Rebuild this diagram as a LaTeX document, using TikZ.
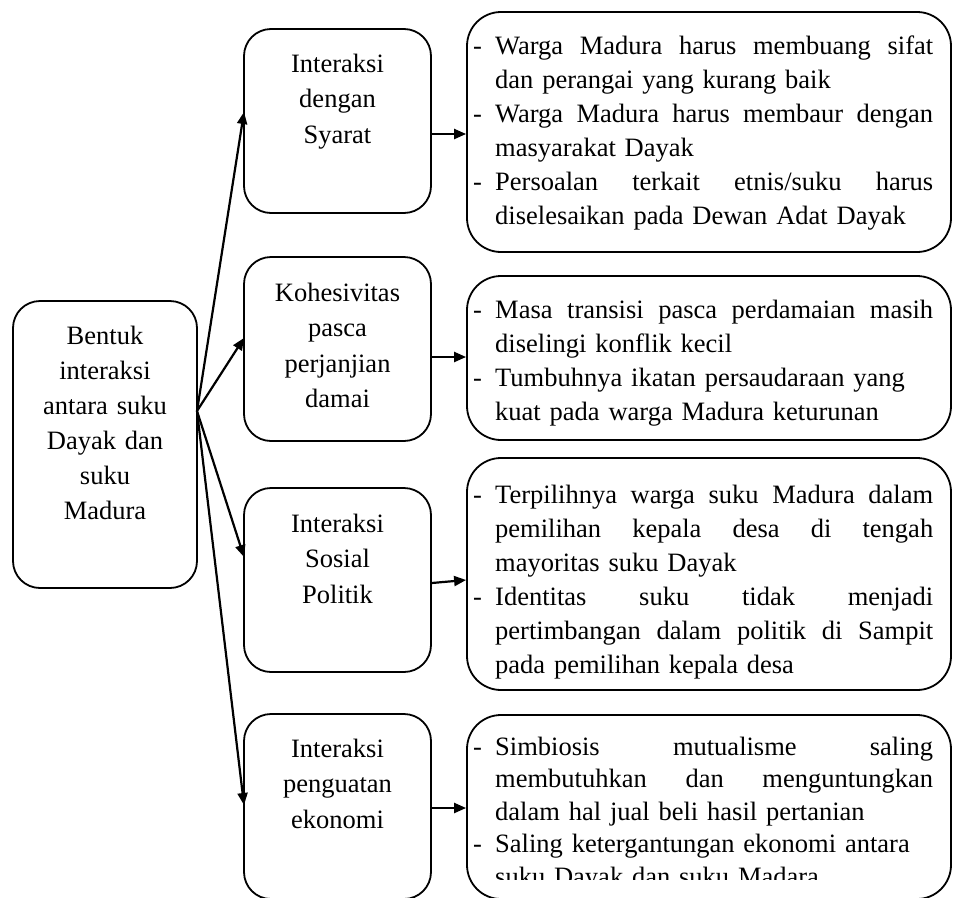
\documentclass[tikz,border=0pt]{standalone}
\usepackage{fontspec}
\setmainfont{Liberation Serif}
\usetikzlibrary{arrows.meta}
% bullet dash with hanging indent, and full-width justified lines
\newcommand\itemdash{\makebox[22pt][l]{-}}
\newcommand\contline{\hspace*{22pt}}
\newcommand\justline[1]{\hbox to 438pt{\spaceskip=0.25em plus 1fil\relax #1}}
\begin{document}
\begin{tikzpicture}[x=1pt,y=-1pt,
  box/.style={draw, line width=1.8pt, rounded corners=27pt, inner sep=0pt},
  rbox/.style={draw, line width=1.8pt, rounded corners=34pt, inner sep=0pt,
               minimum width=484pt},
  mbox/.style={box, minimum width=187pt, minimum height=184pt},
  mtext/.style={text width=187pt, align=center, anchor=base, inner sep=0pt,
                font=\fontsize{26.5}{35.5}\selectfont},
  rtext/.style={text width=470pt, align=left, anchor=base west, inner sep=0pt,
                font=\fontsize{26.5}{34}\selectfont},
  arr/.style={line width=2.2pt, -{Triangle[length=12pt,width=10pt]}}]
\useasboundingbox (0,0) rectangle (953,897);

% source box
\node[box, minimum width=184pt, minimum height=287pt] (src) at (105,444.5) {};
\node[text width=184pt, align=center, anchor=base, inner sep=0pt,
      font=\fontsize{26.5}{35}\selectfont] (srctext) at (105,344)
  {Bentuk\\interaksi\\antara suku\\Dayak dan\\suku\\Madura};

% middle column
\node[mbox] (m1) at (337.5,121) {};
\node[mbox] (m2) at (337.5,349) {};
\node[mbox] (m3) at (337.5,580) {};
\node[mbox, minimum height=185pt] (m4) at (337.5,806.5) {};
\node[mtext] (m1text) at (337.5,72) {Interaksi\\dengan\\Syarat};
\node[mtext] (m2text) at (337.5,301) {Kohesivitas\\pasca\\perjanjian\\damai};
\node[mtext] (m3text) at (337.5,532) {Interaksi\\Sosial\\Politik};
\node[mtext] (m4text) at (337.5,757) {Interaksi\\penguatan\\ekonomi};

% right column
\node[rbox, minimum height=240pt] (r1) at (709,132) {};
\node[rbox, minimum height=164pt] (r2) at (709,358) {};
\node[rbox, minimum height=232pt] (r3) at (709,574) {};
\node[rbox, minimum height=184pt] (r4) at (709,807) {};

\node[rtext] (r1text) at (473,54.5) {%
  \itemdash\justline{Warga Madura harus membuang sifat}\\
  \contline dan perangai yang kurang baik\\
  \itemdash\justline{Warga Madura harus membaur dengan}\\
  \contline masyarakat Dayak\\
  \itemdash\justline{Persoalan terkait etnis/suku harus}\\
  \contline diselesaikan pada Dewan Adat Dayak};

\node[rtext] (r2text) at (473,318) {%
  \itemdash\justline{Masa transisi pasca perdamaian masih}\\
  \contline diselingi konflik kecil\\
  \itemdash Tumbuhnya ikatan persaudaraan yang\\
  \contline kuat pada warga Madura keturunan};

\node[rtext] (r3text) at (473,503) {%
  \itemdash\justline{Terpilihnya warga suku Madura dalam}\\
  \contline\justline{pemilihan kepala desa di tengah}\\
  \contline mayoritas suku Dayak\\
  \itemdash\justline{Identitas suku tidak menjadi}\\
  \contline\justline{pertimbangan dalam politik di Sampit}\\
  \contline pada pemilihan kepala desa};

% the last line of this text box is cut off by its frame
\begin{scope}
  \clip (460,700) rectangle (953,879.5);
  \node[rtext, font=\fontsize{26.5}{32.5}\selectfont] (r4text) at (473,755) {%
    \itemdash\justline{Simbiosis mutualisme saling}\\
    \contline\justline{membutuhkan dan menguntungkan}\\
    \contline dalam hal jual beli hasil pertanian\\
    \itemdash Saling ketergantungan ekonomi antara\\
    \contline suku Dayak dan suku Madara};
\end{scope}

% fan of connectors from the source box
\coordinate (hub) at (197,411);
\coordinate (t1) at (244,112);
\coordinate (t2) at (244,338);
\coordinate (t3) at (244,557);
\coordinate (t4) at (244,805);
\draw[arr] (hub) -- (t1);
\draw[arr] (hub) -- (t2);
\draw[arr] (hub) -- (t3);
\draw[arr] (hub) -- (t4);

% middle to right connectors
\draw[arr] (m1.east |- 0,134) -- (r1.west |- 0,134);
\draw[arr] (m2.east |- 0,357) -- (r2.west |- 0,357);
\draw[arr] (m3.east |- 0,583) -- (r3.west |- 0,580);
\draw[arr] (m4.east |- 0,808) -- (r4.west |- 0,808);
\end{tikzpicture}
\end{document}
